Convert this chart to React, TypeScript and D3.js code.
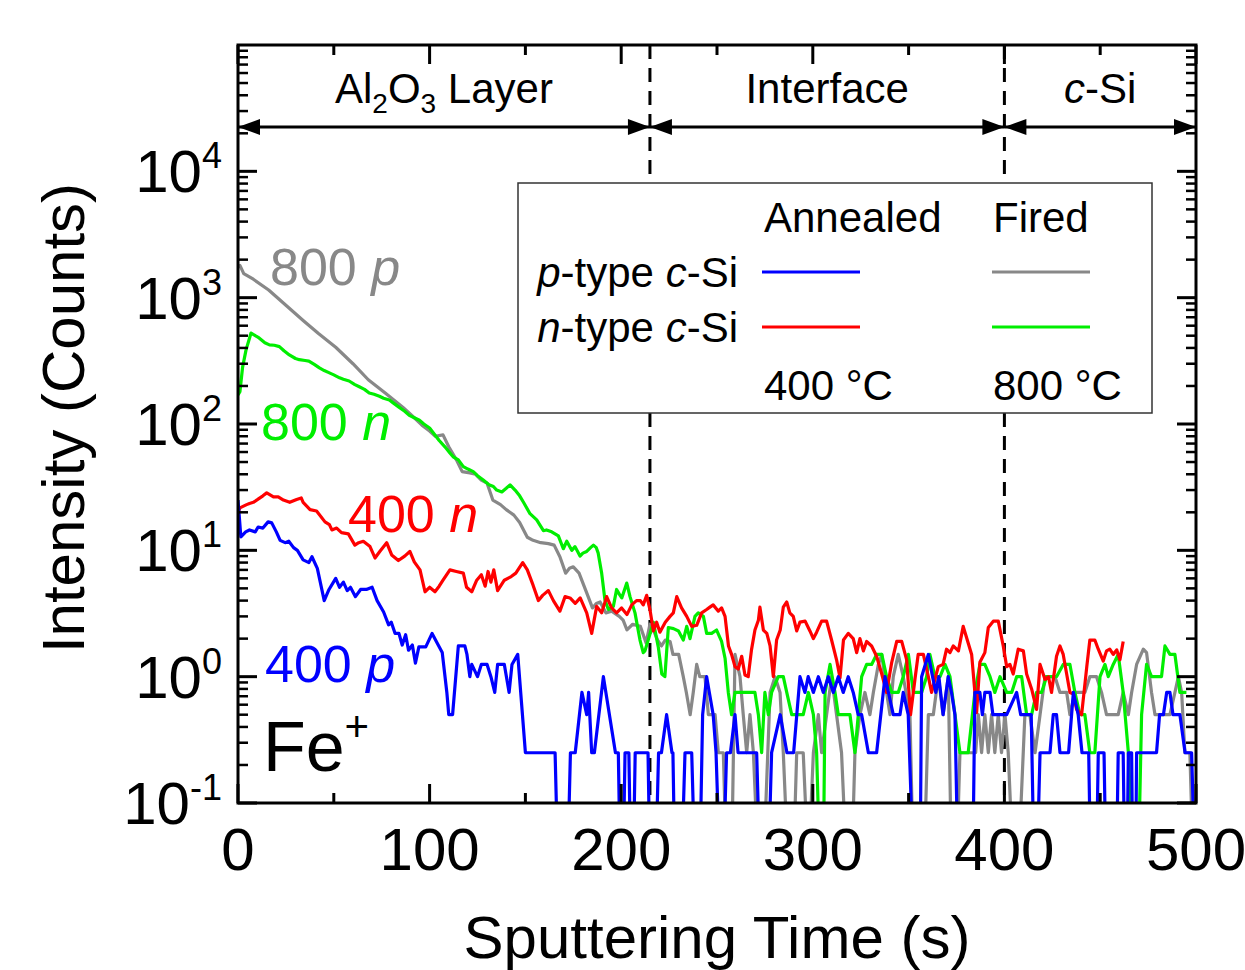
import React from 'react';
import * as d3 from 'd3';

type Pt = [number, number];

// Sputtering time (s), intensity (counts); 0 = no counts (falls off the log axis)
const annealedP: Pt[] = [[0,25],[1.5,12.8],[4,14],[6,14.5],[9,14],[10.5,15.3],[13,15],[15.7,16.8],[17.6,16.5],[20,14],[22,12],[24.6,11.5],[26.5,11.8],[29,10.5],[31,10],[34,8.4],[37,8],[38.6,8.9],[41.4,7.2],[45,4],[47.5,4.9],[51,6],[53,5.1],[55,5.6],[57,4.8],[58.7,5.1],[61.3,4.3],[64,4.9],[67,4.9],[70,5.1],[72.6,4],[76,3.25],[78.6,2.57],[80,2.7],[82,2.2],[84,2.2],[85.7,1.78],[87.5,2.15],[89,1.62],[91,1.78],[92.6,1.28],[94.4,1.72],[98,1.72],[101.3,2.2],[104,1.84],[106.6,1.55],[109,0.75],[110,0.5],[112,0.5],[115,1.75],[118.4,1.75],[119.5,1.5],[121,1],[122,1.25],[125,1],[127,1.25],[130,1.25],[132,1],[134,0.75],[135.5,1.25],[139,1.25],[141.5,0.75],[143,1.25],[146,1.5],[150,0.25],[165.5,0.25],[167,0],[172,0],[173.5,0.25],[176,0.25],[179.5,0.75],[182,0.5],[183,0.75],[184.6,0.25],[186,0.25],[190.7,1],[197,0.25],[198.5,0.25],[199.5,0],[201,0],[202,0.25],[204,0.25],[205,0],[206.3,0],[207.3,0.25],[214,0.25],[215,0],[218,0],[219.5,0.25],[221,0.25],[223.7,0.5],[226.5,0.25],[227,0.25],[228,0],[231.5,0],[233.3,0.25],[236.8,0.25],[238.5,0],[241,0],[242.5,0.5],[244.6,1],[246,0.75],[248,0.5],[249.5,0.25],[251.5,0],[253.3,0],[255,0.25],[257,0.25],[259.4,0.5],[261,0.25],[270.7,0.25],[272.4,0],[276.8,0],[278.5,0.25],[283,0.5],[286.5,0.25],[290,0.25],[293.3,1],[295.9,0.75],[297.6,1],[300.3,0.75],[302.9,1],[305.5,0.75],[308.1,1],[310.7,0.75],[313.3,1],[315.9,0.75],[318.5,1],[321.1,0.75],[323.7,0.5],[325.5,0.5],[329,0.25],[333.3,0.25],[337.7,1],[342,0.5],[345.5,0.5],[347.2,0.75],[349.8,0.5],[352.5,0],[356,0],[356.8,1],[360.3,1.5],[362.5,1],[364.2,0.75],[365.8,1],[368,0.5],[370.7,1],[372.4,0.75],[374.2,0.5],[375.8,0],[383.5,0],[384.6,0.75],[387.2,0.75],[388.5,0.5],[389.8,0.75],[392.5,0.75],[394,0.5],[401.2,0.5],[406.4,0.75],[408.5,0.5],[414,0.5],[415.5,0],[417,0],[418.6,0.25],[423.8,0.25],[425.5,0.5],[427.2,0.5],[429,0.25],[433.5,0.25],[436,0.75],[438.5,0.5],[440.5,0.25],[444,0.25],[445,0],[448,0],[449,0.25],[452,0.25],[453,0],[458.5,0],[459.4,0.25],[462,0.25],[462.8,0],[464,0],[464.7,0.25],[466.4,0.25],[467,0],[468.5,0],[469,0.25],[479.4,0.25],[481,0.5],[483,0.5],[484.7,0.75],[486.4,0.75],[488,0.5],[491.6,0.5],[494.3,0.25],[497.7,0.25],[499.5,0]];

const annealedN: Pt[] = [[0,20],[1,21.7],[4.5,23],[6,23.5],[8,24],[10.3,25.3],[13,27],[15,28.5],[18.5,26.5],[21,26.5],[23.7,25],[27,24],[30.6,25.3],[33,26],[34,24],[37.6,21],[41,20.5],[45.4,16.8],[47.7,16],[49,14.5],[51.5,15],[54,13.8],[57.6,13.5],[61,11],[63,11.5],[65.4,11.8],[68.9,10.7],[71.5,8.7],[74,9.8],[77.6,11.5],[80.2,9.2],[83.7,8.3],[87,9],[89.7,9.8],[92,8.1],[95,7],[97.6,4.7],[100,5.1],[102.8,4.7],[105,5.2],[107,5.8],[110.6,7],[114,6.8],[117.6,6.6],[119.3,5.1],[122,4.7],[124.6,5.8],[127,6.4],[129,5.2],[130.5,6.8],[132,5.6],[133.5,7],[135.5,4.8],[139,5.8],[142.6,6.2],[145,6.6],[148.6,8],[151,7],[154,5.3],[156.8,4],[159,4.4],[162,4.8],[164.6,4],[168,3.3],[170.7,4.3],[173.3,4.2],[176,3.8],[178.6,4.2],[182,3.2],[184.6,2.2],[187.2,3.6],[189.8,3.2],[192.4,4.3],[195,3.5],[197.6,3.2],[200.2,3.5],[203,3.1],[205.5,3.7],[208,4],[210,4],[211.5,3.7],[213.3,4.4],[215,3.4],[216.8,2.3],[218.5,2.7],[220.2,2.25],[223,2.7],[225.5,3],[227.2,3.2],[229,4.3],[231.5,3.5],[234.2,3],[236.8,2.5],[239.4,2.55],[242,3.2],[244.6,3.4],[246.3,3.55],[248,3.7],[250.7,3.3],[252.4,3.5],[254.2,3],[256,1.75],[257.6,1.5],[259.4,1.2],[261.1,1.15],[262.9,1.45],[264.6,1.03],[266.3,1],[268,1.63],[269.8,2.34],[271.6,2.8],[272.4,3.55],[274.2,2.34],[276,2.2],[277.7,1.75],[279.4,1],[281.1,1.95],[283,2.34],[284.6,3.55],[286.4,3.9],[288,3.2],[289.8,3],[291.6,2.3],[293.3,2.7],[296,2.75],[298.5,2.3],[300.3,2],[302,2.25],[304.6,2.75],[307.2,2.75],[309.8,1.95],[312.4,1.36],[314.2,0.98],[316,1.95],[318.5,2.2],[321.1,2],[322.9,1.55],[324.6,2],[326.4,1.6],[328.1,1.9],[330.7,1.75],[333.3,1.45],[336,1.05],[338.5,0.75],[341.2,1.3],[343.8,1.9],[346.4,1.9],[349,1.36],[351,0.5],[353.3,0.95],[355,1.5],[357.7,1.5],[360.3,1],[362,0.75],[363.7,0.95],[365.5,1.2],[368,1.25],[369.8,1.65],[371.6,1.55],[373.3,1.75],[376,1.6],[378.5,2.5],[381.1,1.85],[382.9,1.5],[385.5,0.52],[387.2,1.3],[389.8,1.55],[391.6,2.45],[394.2,2.75],[396.8,2.75],[399.4,1.75],[401.2,1.2],[402.9,1.25],[404.6,1.05],[407.2,1.65],[409.9,1.6],[411.6,1.05],[414.2,0.8],[416.8,0.55],[418.6,1.25],[421.2,0.95],[423,1],[424.6,0.75],[427.2,1.45],[429,1.75],[430.7,1.5],[432.5,1.05],[434.2,0.75],[436,0.73],[437.7,0.55],[440.3,0.5],[443,1.2],[444.6,1.95],[447.2,1.95],[449,1.65],[451.6,1.33],[453.3,1.6],[455,1.65],[456.8,1.5],[458.6,1.63],[460.3,1.36],[462,1.9]];

const firedP: Pt[] = [[0,1750],[1,1800],[3,1550],[8,1400],[16,1150],[25,870],[34,660],[42,520],[51,405],[60,300],[68,224],[77,175],[86,136],[92,112],[96,98],[100,88],[103,80],[107,82],[110,66],[114,52],[117,42],[121,41],[124,40],[127,36],[130,34],[133,25],[137,23],[140,21],[144,19],[147,16.6],[151,12.7],[154,12],[158,11.5],[162,11.3],[165,11],[168,8.9],[171,6.6],[173,7.2],[175,7.4],[178,6.6],[182,4.6],[185,3.5],[187,3.8],[189,3.9],[192,3.2],[195,3.3],[199,3],[201,2.8],[203,2.35],[206,2.6],[210,2.5],[213,1.85],[215,2.6],[217,2.3],[219,1.95],[221,1.75],[223,1.95],[225.5,1.9],[227,1.5],[230,1.5],[232.4,1],[234,0.75],[236,0.5],[237.6,0.75],[239.4,1.25],[241,1],[243.7,1],[245.5,0.5],[249,0.5],[250.7,0.25],[253.3,0.25],[255,0],[257.6,0],[259.4,1.5],[262,1],[263.7,0.5],[265.5,0.25],[267.2,0.5],[269,0.25],[271.6,0],[274.2,0],[277.7,0.75],[280.3,1],[282.9,0.75],[284.6,0.25],[287.2,0],[289.8,0],[291.6,0.25],[295,0.25],[297.7,0],[300.3,0.25],[302.9,0.5],[304.6,0.25],[307.2,0.5],[309.8,1],[312.4,0.5],[315,0.25],[317.7,0],[320.3,0],[322,0.25],[324.6,0.5],[327.2,0.75],[329.8,0.5],[331.6,0.75],[334.2,1.25],[336,1.5],[338.5,0.75],[340.3,0.5],[342,1],[344.6,1.5],[347.2,1],[350.7,0.5],[352.5,0],[358,0],[360.3,0.5],[362.9,0.5],[365.5,1],[368,0.5],[370.7,1],[372.4,0],[375,0],[376.8,0.25],[385,0.25],[386.4,0.5],[388.1,0.25],[389.8,0.5],[391.6,0.25],[393.3,0.5],[395,0.25],[396.8,0.5],[398.5,0.25],[400.3,0.5],[402,0.25],[404.6,0],[407.2,0],[410.7,0.5],[413.3,0.5],[416,0.25],[418.6,0.5],[421.2,1],[426.4,1],[429,0.75],[432.5,0.75],[434.2,0.5],[436.8,0.75],[442,0.75],[444.6,1],[448.1,1],[450.7,0.75],[453.3,0.5],[459.4,0.5],[462,0.75],[464.7,0.5],[466.4,0.75],[469,1.25],[472.5,1.65],[474.2,1.55],[476.8,0.75],[478.6,0.5],[486.4,0.5],[489,0.75],[490.8,1],[492.5,0.75],[494.2,0.25],[496.8,0.25],[498.6,0]];

const firedN: Pt[] = [[0,170],[1,180],[2.4,282],[4.2,386],[6.8,525],[9,500],[11,480],[14,440],[16.4,423],[19,420],[21.6,410],[24,380],[26.8,352],[30,330],[32,323],[35,318],[37,315],[40,295],[42.5,278],[45,265],[47.7,254],[50,245],[53,232],[55,226],[58,219],[61,205],[63.3,197],[66,188],[68.5,176],[71,172],[73.8,166],[76,160],[79,155],[81,147],[84,136],[87,126],[89.4,117],[92,112],[94.7,107],[97,100],[100,93],[102,85],[105,74],[108,66],[110.6,59],[112.3,55],[115,52],[117.6,46],[120,44],[122.8,42],[125,39],[128,36],[131,33],[133.3,32],[135,30],[137.7,29],[140,31],[142,33],[144.6,30],[147,27],[149,24],[152.4,19.5],[155.9,17.4],[159.4,14.3],[161,14.5],[163.7,14],[167.2,13],[169.8,10.3],[171.6,11.8],[174.2,10],[175.9,10.7],[178.5,9],[180,9.5],[182,9.8],[184,10.5],[185.5,11],[187,10.5],[188,9.5],[189.8,6.6],[191.5,4.05],[193.3,3.4],[195.9,3.6],[197.6,4.9],[199,4.5],[200.3,4.2],[202.9,5.5],[204.6,4.3],[207.2,3.2],[209.8,1.95],[211.5,1.55],[212.4,1.6],[214.1,1.95],[216.8,2.7],[219.4,1.7],[221.2,1.05],[222.8,1],[224.6,2.45],[227.3,2.4],[229.9,2.3],[232.4,1.95],[234.2,2.5],[235.9,2],[238.5,3],[240.2,3.2],[242.9,3],[244.6,2.2],[247.2,2.2],[249.8,2.34],[252.4,1.9],[254.2,1.4],[255.9,0.75],[257.6,0.5],[259.4,0.75],[269.8,0.75],[271.6,0.5],[273.3,0.25],[275,0.75],[276.8,0.5],[278.5,0.75],[282,1],[284.6,1],[286.4,0.75],[289,0.5],[295,0.5],[297.7,0.75],[300.3,0.5],[302,0.25],[303.7,0],[305.5,0],[306.4,0.75],[309,1.25],[311.6,0.75],[313.3,0.5],[319.4,0.5],[322,0.25],[325.5,1],[328.1,1.25],[330.7,1.25],[333.3,1.5],[336,1.5],[338.5,1],[341.2,0.75],[344.6,0.75],[347.2,1],[349.9,1.5],[352.5,0.75],[356.8,0.75],[359.4,1],[361.1,1.5],[363.7,1],[366.4,1],[369,1.25],[371.6,1],[374.2,0.5],[376.8,0.25],[381.1,0.25],[384.6,0.75],[387.2,1.25],[389.8,1.25],[392.5,1],[395,0.75],[397.7,1],[401.2,0.75],[403.8,0.75],[406.4,1],[409,1],[411.6,0.5],[414.2,0.5],[416.8,0.75],[419.4,0.75],[422,1],[427.2,1],[430.7,1.25],[434.2,1.25],[436.8,0.75],[439.4,0.5],[442,0.5],[444.6,0.25],[447.2,0.25],[449.9,1],[452.5,1.25],[454.2,1],[456.8,1.25],[459.4,1.5],[462,0.75],[464.7,0.25],[467.3,0],[469.9,0],[471.6,0.5],[474.2,1.25],[476.8,1],[482,1],[483.8,1.75],[486.4,1.5],[489,1.5],[491.6,0.75],[495,0.75]];

// Region boundaries (s) and tick values
const regionEdges = [0, 215, 400, 500];
const xTickValues = [0, 100, 200, 300, 400, 500];
const xMinorValues = [50, 150, 250, 350, 450];
const yExponents = [-1, 0, 1, 2, 3, 4];

const COLORS = { annealedP: '#0000ff', annealedN: '#ff0000', firedP: '#888888', firedN: '#00ee00' };
const FONT = "'Liberation Sans', Arial, Helvetica, sans-serif";

export default function App() {
  const W = 1245, H = 970;
  const L = 238, R = 1196, T = 45, B = 803;
  const x = d3.scaleLinear().domain([0, 500]).range([L, R]);
  const y = d3.scaleLog().domain([0.1, 1e5]).range([B, T]);
  const line = d3.line<Pt>().x(d => x(d[0])).y(d => y(d[1] > 0 ? d[1] : 0.03));

  const series = [
    { data: firedP, color: COLORS.firedP },
    { data: firedN, color: COLORS.firedN },
    { data: annealedN, color: COLORS.annealedN },
    { data: annealedP, color: COLORS.annealedP },
  ];

  const yMajor: number[] = [];
  const yMinor: number[] = [];
  for (let e = -1; e <= 4; e++) {
    yMajor.push(Math.pow(10, e));
    for (let k = 2; k <= 9; k++) yMinor.push(k * Math.pow(10, e));
  }

  const arrowY = 127;
  const arrowHead = (tip: number, dir: number) => {
    const len = 22, hw = 8;
    return `M${tip},${arrowY} L${tip - dir * len},${arrowY - hw} L${tip - dir * len},${arrowY + hw} Z`;
  };

  const majLen = 19, minLen = 10;

  return (
    <div style={{ position: 'absolute', left: 0, top: 0 }}>
      <svg width={W} height={H} viewBox={`0 0 ${W} ${H}`} style={{ display: 'block', background: '#fff' }} fontFamily={FONT}>
        <defs>
          <clipPath id="plotClip">
            <rect x={L} y={T} width={R - L} height={B - T} />
          </clipPath>
        </defs>

        {/* dashed region boundaries */}
        {regionEdges.slice(1, -1).map(t => (
          <line key={'d' + t} x1={x(t)} x2={x(t)} y1={T} y2={B} stroke="#000" strokeWidth={3} strokeDasharray="14 9" />
        ))}

        {/* data curves */}
        <g clipPath="url(#plotClip)">
          {series.map((s, i) => (
            <path key={i} d={line(s.data) || ''} fill="none" stroke={s.color} strokeWidth={3.2} strokeLinejoin="round" />
          ))}
        </g>

        {/* region arrows */}
        {regionEdges.slice(0, -1).map((a, i) => {
          const b = regionEdges[i + 1];
          return (
            <g key={'r' + i}>
              <line x1={x(a)} x2={x(b)} y1={arrowY} y2={arrowY} stroke="#000" strokeWidth={3} />
              <path d={arrowHead(x(a), -1)} fill="#000" />
              <path d={arrowHead(x(b), 1)} fill="#000" />
            </g>
          );
        })}
        <text x={x((regionEdges[0] + regionEdges[1]) / 2)} y={103} textAnchor="middle" fontSize={42}>
          Al<tspan fontSize={28} dy={10}>2</tspan><tspan dy={-10}>O</tspan><tspan fontSize={28} dy={10}>3</tspan><tspan dy={-10}> Layer</tspan>
        </text>
        <text x={x((regionEdges[1] + regionEdges[2]) / 2)} y={103} textAnchor="middle" fontSize={42}>Interface</text>
        <text x={x((regionEdges[2] + regionEdges[3]) / 2)} y={103} textAnchor="middle" fontSize={42}>
          <tspan fontStyle="italic">c</tspan>-Si
        </text>

        {/* legend */}
        <rect x={518} y={183} width={634} height={230} fill="#fff" stroke="#333" strokeWidth={1.5} />
        <text x={764} y={232} fontSize={42}>Annealed</text>
        <text x={993} y={232} fontSize={42}>Fired</text>
        <text x={738} y={287} fontSize={42} textAnchor="end"><tspan fontStyle="italic">p</tspan>-type <tspan fontStyle="italic">c</tspan>-Si</text>
        <text x={738} y={342} fontSize={42} textAnchor="end"><tspan fontStyle="italic">n</tspan>-type <tspan fontStyle="italic">c</tspan>-Si</text>
        <line x1={762} x2={860} y1={272} y2={272} stroke={COLORS.annealedP} strokeWidth={3} />
        <line x1={992} x2={1090} y1={272} y2={272} stroke={COLORS.firedP} strokeWidth={3} />
        <line x1={762} x2={860} y1={327} y2={327} stroke={COLORS.annealedN} strokeWidth={3} />
        <line x1={992} x2={1090} y1={327} y2={327} stroke={COLORS.firedN} strokeWidth={3} />
        <text x={764} y={400} fontSize={42}>400 °C</text>
        <text x={993} y={400} fontSize={42}>800 °C</text>

        {/* curve labels */}
        <text x={x(16.7)} y={y(1260)} fontSize={52} fill={COLORS.firedP}>800 <tspan fontStyle="italic">p</tspan></text>
        <text x={x(12)} y={y(75)} fontSize={52} fill={COLORS.firedN}>800 <tspan fontStyle="italic">n</tspan></text>
        <text x={x(57.4)} y={y(14)} fontSize={52} fill={COLORS.annealedN}>400 <tspan fontStyle="italic">n</tspan></text>
        <text x={x(14.1)} y={y(0.91)} fontSize={52} fill={COLORS.annealedP}>400 <tspan fontStyle="italic">p</tspan></text>
        <text x={x(13)} y={y(0.18)} fontSize={70}>Fe<tspan fontSize={42} dy={-30}>+</tspan></text>

        {/* frame */}
        <rect x={L} y={T} width={R - L} height={B - T} fill="none" stroke="#000" strokeWidth={3} />

        {/* x ticks (bottom and top, inward) */}
        {xTickValues.map(v => (
          <g key={'xt' + v}>
            <line x1={x(v)} x2={x(v)} y1={B} y2={B - majLen} stroke="#000" strokeWidth={3} />
            <line x1={x(v)} x2={x(v)} y1={T} y2={T + majLen} stroke="#000" strokeWidth={3} />
            <text x={x(v)} y={870} textAnchor="middle" fontSize={60}>{v}</text>
          </g>
        ))}
        {xMinorValues.map(v => (
          <g key={'xm' + v}>
            <line x1={x(v)} x2={x(v)} y1={B} y2={B - minLen} stroke="#000" strokeWidth={3} />
            <line x1={x(v)} x2={x(v)} y1={T} y2={T + minLen} stroke="#000" strokeWidth={3} />
          </g>
        ))}

        {/* y ticks (left and right, inward) */}
        {yMajor.map(v => (
          <g key={'ym' + v}>
            <line x1={L} x2={L + majLen} y1={y(v)} y2={y(v)} stroke="#000" strokeWidth={3} />
            <line x1={R} x2={R - majLen} y1={y(v)} y2={y(v)} stroke="#000" strokeWidth={3} />
          </g>
        ))}
        {yMinor.map(v => (
          <g key={'yn' + v}>
            <line x1={L} x2={L + minLen} y1={y(v)} y2={y(v)} stroke="#000" strokeWidth={2.5} />
            <line x1={R} x2={R - minLen} y1={y(v)} y2={y(v)} stroke="#000" strokeWidth={2.5} />
          </g>
        ))}
        {yExponents.map(e => (
          <text key={'yl' + e} x={222} y={y(Math.pow(10, e)) + 21} textAnchor="end" fontSize={60}>
            10<tspan fontSize={36} dy={-24}>{e}</tspan>
          </text>
        ))}

        {/* axis titles */}
        <text x={(L + R) / 2} y={958} textAnchor="middle" fontSize={60}>Sputtering Time (s)</text>
        <text transform={`translate(84, 418) rotate(-90)`} textAnchor="middle" fontSize={60}>Intensity (Counts)</text>
      </svg>
    </div>
  );
}
